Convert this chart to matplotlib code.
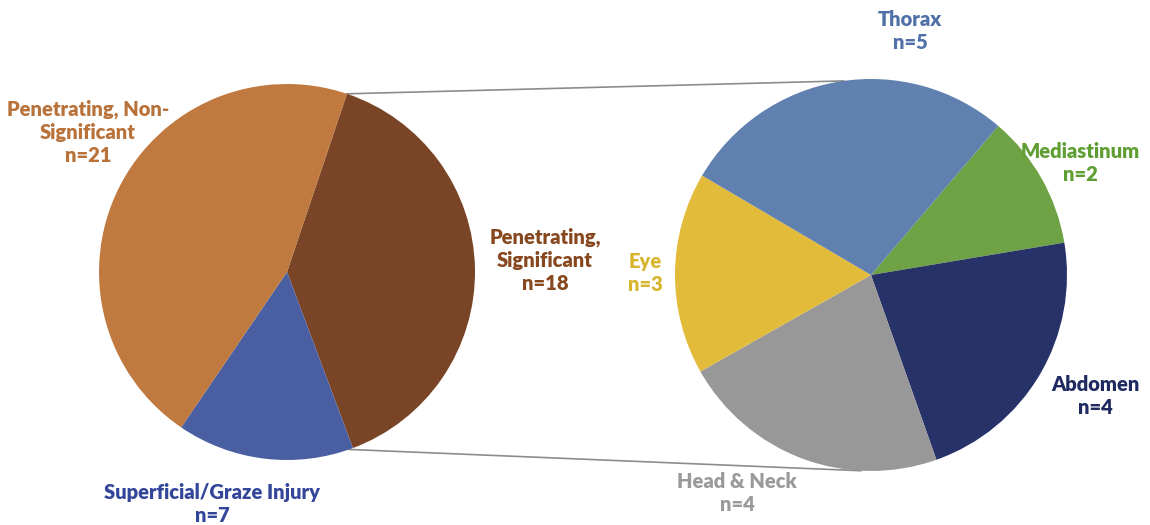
import matplotlib.pyplot as plt
import numpy as np

# left pie (pie of pie, main)
main_labels = ['Penetrating,\nSignificant\nn=18', 'Superficial/Graze Injury\nn=7', 'Penetrating, Non-\nSignificant\nn=21']
main_values = [18, 7, 21]
main_colors = ['#7A4526', '#4A5EA2', '#C0793F']
main_text_colors = ['#87481F', '#34469A', '#B8723A']

# right pie (breakdown of significant)
sub_labels = ['Mediastinum\nn=2', 'Abdomen\nn=4', 'Head & Neck\nn=4', 'Eye\nn=3', 'Thorax\nn=5']
sub_values = [2, 4, 4, 3, 5]
sub_colors = ['#6FA244', '#263268', '#989898', '#E2BB3B', '#6080B0']
sub_text_colors = ['#5E9E32', '#1E2A60', '#9A9A9A', '#D9B52E', '#5070A8']

W, H = 1150, 525
fig = plt.figure(figsize=(11.5, 5.25), dpi=100)
ax = fig.add_axes([0, 0, 1, 1])

c1 = (287, H - 272)
r1 = 188
c2 = (871, H - 275)
r2 = 196

ax.pie(main_values, colors=main_colors, startangle=71.4, counterclock=False,
       center=c1, radius=r1, wedgeprops=dict(linewidth=0))
ax.pie(sub_values, colors=sub_colors, startangle=49.5, counterclock=False,
       center=c2, radius=r2, wedgeprops=dict(linewidth=0))

# connector lines
def edge(c, r, ang):
    a = np.deg2rad(ang)
    return c[0] + r * np.cos(a), c[1] + r * np.sin(a)

p1 = edge(c1, r1, 71.4)
p2 = edge(c2, r2, 98)
p3 = edge(c1, r1, -70.7)
p4 = edge(c2, r2, -93)
ax.plot([p1[0], p2[0]], [p1[1], p2[1]], color='#8C8C8C', lw=1.2, zorder=0)
ax.plot([p3[0], p4[0]], [p3[1], p4[1]], color='#8C8C8C', lw=1.2, zorder=0)

font = dict(family='Lato', fontweight='heavy', fontsize=14.5, ha='center', va='center',
            linespacing=1.25)

main_pos = [(545, 260), (212, 504), (88, 132)]
for lab, col, (x, y) in zip(main_labels, main_text_colors, main_pos):
    ax.text(x, H - y, lab, color=col, **font)

sub_pos = [(1080, 163), (1095, 396), (737, 493), (645, 273), (910, 31)]
for lab, col, (x, y) in zip(sub_labels, sub_text_colors, sub_pos):
    ax.text(x, H - y, lab, color=col, **font)

ax.set_xlim(0, W)
ax.set_ylim(0, H)
ax.set_aspect('equal')
ax.axis('off')

plt.savefig('out.png', dpi=100)
